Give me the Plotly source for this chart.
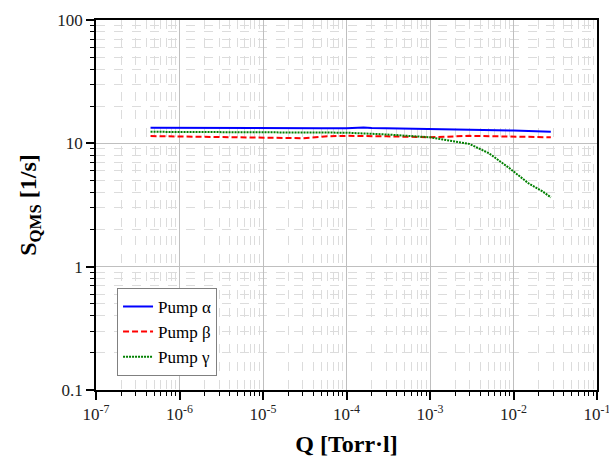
import plotly.graph_objects as go

q_alpha = [4.5e-7, 1e-6, 1e-5, 5e-5, 1e-4, 1.4e-4, 1.6e-4, 2e-4, 5e-4, 1e-3, 3e-3, 1e-2, 2e-2, 2.8e-2]
s_alpha = [13.4, 13.35, 13.3, 13.25, 13.25, 13.35, 13.45, 13.3, 13.2, 13.1, 12.9, 12.7, 12.5, 12.4]

q_beta = [4.5e-7, 1e-6, 3e-6, 1e-5, 3e-5, 6e-5, 1e-4, 3e-4, 1e-3, 3e-3, 1e-2, 2.8e-2]
s_beta = [11.45, 11.35, 11.2, 11.05, 11.0, 11.4, 11.5, 11.4, 11.2, 11.5, 11.4, 11.2]

q_gamma = [4.5e-7, 1e-6, 1e-5, 1e-4, 3e-4, 6e-4, 1e-3, 2.05e-3, 2.95e-3, 5.1e-3, 8.9e-3, 1.54e-2, 2.2e-2, 2.8e-2]
s_gamma = [12.4, 12.35, 12.3, 12.2, 11.8, 11.5, 11.2, 10.3, 9.9, 8.3, 6.3, 4.7, 4.1, 3.65]

x_tickvals = [1e-7, 1e-6, 1e-5, 1e-4, 1e-3, 1e-2, 1e-1]
x_ticktext = ["10<sup>-7</sup>", "10<sup>-6</sup>", "10<sup>-5</sup>", "10<sup>-4</sup>",
              "10<sup>-3</sup>", "10<sup>-2</sup>", "10<sup>-1</sup>"]
y_tickvals = [0.1, 1, 10, 100]
y_ticktext = ["0.1", "1", "10", "100"]

x_minor = [m * d for d in x_tickvals[:-1] for m in range(2, 10)]
y_minor = [m * d for d in y_tickvals[:-1] for m in range(2, 10)]

font_fam = "Liberation Serif"

fig = go.Figure()
fig.add_trace(go.Scatter(x=q_alpha, y=s_alpha, mode="lines", name="Pump α",
                         line=dict(color="#0000ff", width=2, dash="solid")))
fig.add_trace(go.Scatter(x=q_beta, y=s_beta, mode="lines", name="Pump β",
                         line=dict(color="#ff0000", width=2, dash="6px,3px")))
fig.add_trace(go.Scatter(x=q_gamma, y=s_gamma, mode="lines", name="Pump γ",
                         line=dict(color="#008000", width=2, dash="2px,1px")))


def axis_common(minor_vals):
    return dict(
        type="log",
        showline=True, linecolor="black", linewidth=1.5, mirror=True,
        ticks="outside", ticklen=8, tickwidth=1.5, tickcolor="black",
        showgrid=True, gridcolor="#bfbfbf", gridwidth=1,
        minor=dict(tickmode="array", tickvals=minor_vals,
                   ticks="outside", ticklen=4, tickwidth=1, tickcolor="black",
                   showgrid=True, gridcolor="#dcdcdc", griddash="dash", gridwidth=1),
        tickfont=dict(family=font_fam, size=17, color="#222222"),
        zeroline=False,
        automargin=False,
        ticklabeloverflow="allow",
    )


fig.update_layout(
    width=609, height=460,
    margin=dict(l=96, r=12, t=20, b=70),
    paper_bgcolor="white", plot_bgcolor="white",
    font=dict(family=font_fam, color="black"),
    showlegend=True,
    legend=dict(x=0.042, y=0.038, xanchor="left", yanchor="bottom",
                bgcolor="white", bordercolor="#808080", borderwidth=1,
                font=dict(family=font_fam, size=17, color="black"),
                tracegroupgap=2),
    xaxis=dict(axis_common(x_minor), range=[-7, -1], tickvals=x_tickvals, ticktext=x_ticktext,
               title=dict(text="<b>Q [Torr·l]</b>", font=dict(family=font_fam, size=24), standoff=12)),
    yaxis=dict(axis_common(y_minor), range=[-1, 2], tickvals=y_tickvals, ticktext=y_ticktext,
               title=dict(text="<b>S<sub>QMS</sub> [1/s]</b>", font=dict(family=font_fam, size=24), standoff=14)),
)

fig.write_html("out.html")
